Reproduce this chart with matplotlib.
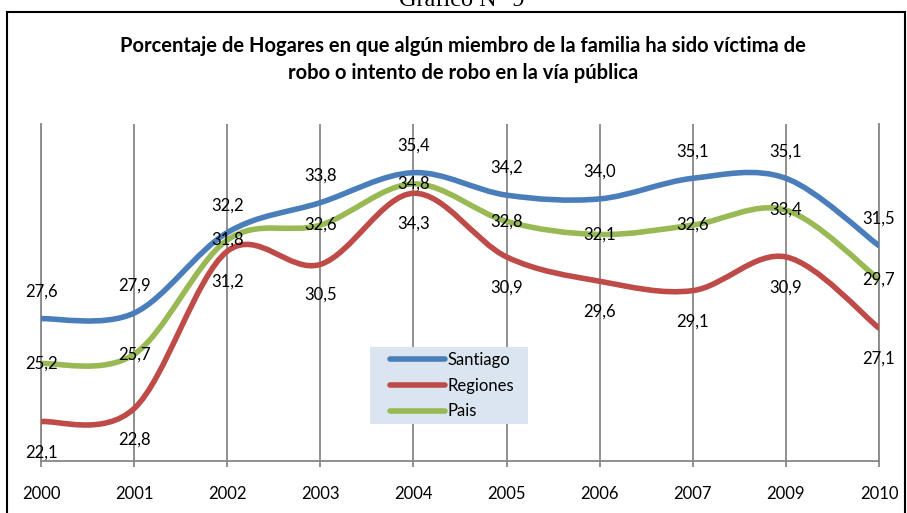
import matplotlib
matplotlib.use("Agg")
import matplotlib.pyplot as plt
from matplotlib.path import Path
from matplotlib.patches import PathPatch, Rectangle
from matplotlib.lines import Line2D

# data (note: no 2008 in the source)
years = ["2000", "2001", "2002", "2003", "2004", "2005", "2006", "2007", "2009", "2010"]
santiago = [27.6, 27.9, 32.2, 33.8, 35.4, 34.2, 34.0, 35.1, 35.1, 31.5]
regiones = [22.1, 22.8, 31.2, 30.5, 34.3, 30.9, 29.6, 29.1, 30.9, 27.1]
pais = [25.2, 25.7, 31.8, 32.6, 34.8, 32.8, 32.1, 32.6, 33.4, 29.7]

series = [
    ("Santiago", santiago, "#4A7EBB", 19.5),
    ("Regiones", regiones, "#BE4B48", -22),
    ("Pais", pais, "#98B954", 0),
]

FONT = "Lato"


def smooth_path(vals):
    # excel-like smoothed line: cubic bezier segments, catmull-rom control points
    n = len(vals)
    pts = list(zip(range(n), vals))
    verts = [pts[0]]
    codes = [Path.MOVETO]
    for i in range(n - 1):
        p0 = pts[max(i - 1, 0)]
        p1 = pts[i]
        p2 = pts[i + 1]
        p3 = pts[min(i + 2, n - 1)]
        c1 = (p1[0] + (p2[0] - p0[0]) / 6, p1[1] + (p2[1] - p0[1]) / 6)
        c2 = (p2[0] - (p3[0] - p1[0]) / 6, p2[1] - (p3[1] - p1[1]) / 6)
        verts += [c1, c2, p2]
        codes += [Path.CURVE4] * 3
    return Path(verts, codes)


W, H = 907, 513
fig = plt.figure(figsize=(W / 100, H / 100), dpi=100)
ax = fig.add_axes([41 / W, 1 - 461 / H, (879 - 41) / W, (461 - 124) / H])

grey = "#878787"
x = list(range(len(years)))
for name, vals, col, off in series:
    ax.add_patch(PathPatch(smooth_path(vals), fill=False, edgecolor=col, lw=4,
                           capstyle="round", joinstyle="round", zorder=3))
for name, vals, col, off in series:
    for xi, v in zip(x, vals):
        ax.annotate(f"{v:.1f}".replace(".", ","), (xi, v), xytext=(0, off),
                    textcoords="offset points", ha="center", va="center",
                    fontsize=12, family=FONT, color="black", zorder=4)

ax.set_xlim(0, len(years) - 1)
ax.set_ylim(20, 38)
ax.set_xticks(x)
ax.set_xticklabels(years, fontsize=12, family=FONT)
ax.set_yticks([])
ax.tick_params(axis="x", length=4.3, width=1.3, color=grey, pad=14)
ax.grid(axis="x", color=grey, lw=1.3)
ax.set_axisbelow(True)
for s in ["left", "right", "bottom"]:
    ax.spines[s].set_color(grey)
    ax.spines[s].set_linewidth(1.3)
ax.spines["top"].set_visible(False)

# legend box
fig.add_artist(Rectangle((370 / W, 1 - 424 / H), 158 / W, 77 / H,
                         transform=fig.transFigure, facecolor="#DBE5F1",
                         edgecolor="none", zorder=5))
handles = [Line2D([], [], color=c, lw=4, solid_capstyle="round") for _, _, c, _ in series]
leg = fig.legend(handles, [s[0] for s in series], loc="center",
                 bbox_to_anchor=(452 / W, 1 - 385.5 / H), frameon=False,
                 handlelength=3.3, handletextpad=0.15, labelspacing=0.6,
                 prop={"family": FONT, "size": 12})
leg.set_zorder(6)

# titles and outer chart border
fig.text(463 / W, 1 - 52 / H, "Porcentaje de Hogares en que algún miembro de la familia ha sido víctima de",
         ha="center", va="baseline", fontsize=14.5, fontweight="bold", family=FONT)
fig.text(463 / W, 1 - 79 / H, "robo o intento de robo en la vía pública",
         ha="center", va="baseline", fontsize=14.5, fontweight="bold", family=FONT)
fig.text(462 / W, 1 - 6 / H, "Gráfico N° 9", ha="center", va="baseline",
         fontsize=17.5, family="Liberation Serif")
fig.add_artist(Rectangle((7 / W, -0.2), (905 - 7) / W, 1.2 - 12 / H,
                         transform=fig.transFigure, fill=False,
                         edgecolor="black", lw=1.5, clip_on=False))

fig.savefig("out.png", dpi=100)
